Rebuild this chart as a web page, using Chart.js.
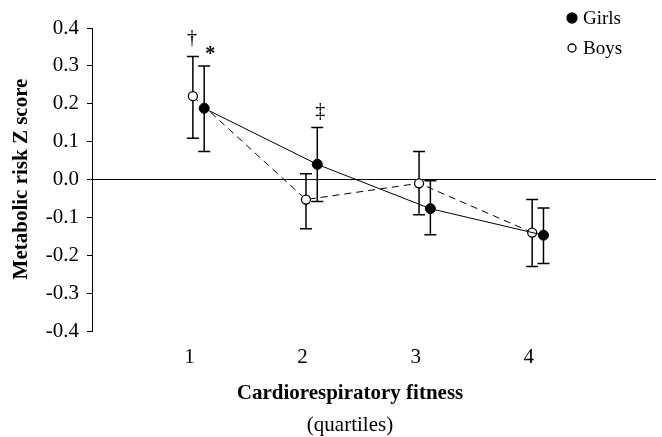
<!DOCTYPE html>
<html><head><meta charset="utf-8">
<script src="https://cdn.jsdelivr.net/npm/chart.js@4.4.0/dist/chart.umd.min.js"></script>
<style>html,body{margin:0;padding:0;background:#fff;}#wrap{width:662px;height:437px;}</style>
</head><body><div id="wrap"><canvas id="c" width="662" height="437"></canvas></div>
<script>
// ---- data ----
const quartiles = [1, 2, 3, 4];
const xTickLabels = ['1', '2', '3', '4'];
const yTicks = [-0.4, -0.3, -0.2, -0.1, 0, 0.1, 0.2, 0.3, 0.4];
const girlsMean = [0.188, 0.040, -0.077, -0.147];
const girlsLow  = [0.074, -0.058, -0.146, -0.222];
const girlsHigh = [0.300, 0.137, -0.003, -0.075];
const boysMean  = [0.220, -0.053, -0.010, -0.140];
const boysLow   = [0.109, -0.130, -0.093, -0.230];
const boysHigh  = [0.325, 0.015, 0.074, -0.053];
const markTexts = ['†', '*', '‡'];
const markSeries = ['Boys', 'Girls', 'Girls'];
const markIndex = [0, 0, 1];

// ---- style ----
const FONT = "'Liberation Serif','Times New Roman',Times,serif";
const boysOffset = 0.03, girlsOffset = 0.13;
const markStyle = [
  {dx: -1, dy: -18, bold: false},
  {dx: 6, dy: -11, bold: true},
  {dx: 3, dy: -16, bold: false}
];

const datasets = [
  {
    label: 'Girls',
    data: quartiles.map((q, i) => ({x: q + girlsOffset, y: girlsMean[i]})),
    low: girlsLow, high: girlsHigh,
    showLine: true, borderColor: '#000', borderWidth: 1,
    pointRadius: 5, pointBackgroundColor: '#000', pointBorderColor: '#000', pointBorderWidth: 1
  },
  {
    label: 'Boys',
    data: quartiles.map((q, i) => ({x: q + boysOffset, y: boysMean[i]})),
    low: boysLow, high: boysHigh,
    showLine: true, borderColor: '#000', borderWidth: 1, borderDash: [7, 5],
    pointRadius: 4.5, pointBackgroundColor: '#fff', pointBorderColor: '#000', pointBorderWidth: 1.3
  }
];

const extras = {
  id: 'extras',
  beforeDatasetsDraw(chart) {
    const {ctx, scales: {x, y}} = chart;
    ctx.save();
    ctx.strokeStyle = '#000';
    ctx.lineWidth = 1.5;
    chart.data.datasets.forEach(ds => {
      ds.data.forEach((p, i) => {
        const px = x.getPixelForValue(p.x);
        const yl = y.getPixelForValue(ds.low[i]);
        const yh = y.getPixelForValue(ds.high[i]);
        ctx.beginPath();
        ctx.moveTo(px, yl); ctx.lineTo(px, yh);
        ctx.moveTo(px - 6, yl); ctx.lineTo(px + 6, yl);
        ctx.moveTo(px - 6, yh); ctx.lineTo(px + 6, yh);
        ctx.stroke();
      });
    });
    ctx.restore();
  },
  afterDraw(chart) {
    const {ctx, scales: {x, y}} = chart;
    ctx.save();
    ctx.fillStyle = '#000';
    // significance marks
    markTexts.forEach((t, k) => {
      const ds = chart.data.datasets.find(d => d.label === markSeries[k]);
      const i = markIndex[k];
      const st = markStyle[k];
      const px = x.getPixelForValue(ds.data[i].x);
      const py = y.getPixelForValue(ds.high[i]);
      ctx.font = (st.bold ? 'bold ' : '') + '20px ' + FONT;
      ctx.textAlign = 'center';
      ctx.textBaseline = 'middle';
      ctx.fillText(t, px + st.dx, py + st.dy);
    });
    // legend
    ctx.font = '19px ' + FONT;
    ctx.textAlign = 'left';
    ctx.textBaseline = 'middle';
    chart.data.datasets.forEach((ds, k) => {
      const ly = 18 + k * 30;
      ctx.beginPath();
      ctx.arc(572, ly, k === 0 ? 5 : 4, 0, Math.PI * 2);
      ctx.fillStyle = ds.pointBackgroundColor;
      ctx.fill();
      ctx.lineWidth = 1.3;
      ctx.strokeStyle = '#000';
      ctx.stroke();
      ctx.fillStyle = '#000';
      ctx.fillText(ds.label, 583, ly + 1);
    });
    // axis titles
    ctx.font = 'bold 21px ' + FONT;
    ctx.textAlign = 'center';
    ctx.fillText('Cardiorespiratory fitness', 350, 394);
    ctx.font = '21px ' + FONT;
    ctx.fillText('(quartiles)', 350, 425);
    ctx.translate(22, 179);
    ctx.rotate(-Math.PI / 2);
    ctx.font = 'bold 21px ' + FONT;
    ctx.fillText('Metabolic risk Z score', 0, 0);
    ctx.restore();
  }
};

new Chart(document.getElementById('c'), {
  type: 'scatter',
  data: {datasets},
  options: {
    responsive: false, animation: false, devicePixelRatio: 1,
    layout: {padding: {top: 28, right: 3, left: 0, bottom: 0}},
    plugins: {legend: {display: false}, tooltip: {enabled: false}},
    scales: {
      x: {
        type: 'linear', min: 0.138, max: 5.125,
        grid: {display: false}, border: {display: false},
        afterBuildTicks: s => { s.ticks = quartiles.map(v => ({value: v})); },
        ticks: {
          callback: (v, i) => xTickLabels[i], color: '#000',
          font: {family: FONT, size: 21}, padding: 6, maxRotation: 0, autoSkip: false
        },
        afterFit: s => { s.height = 106; }
      },
      y: {
        min: -0.4, max: 0.4,
        afterBuildTicks: s => { s.ticks = yTicks.map(v => ({value: v})); },
        ticks: {
          callback: v => Number(v).toFixed(1), color: '#000',
          font: {family: FONT, size: 21}, padding: 8
        },
        grid: {
          color: c => (c.tick && Math.abs(c.tick.value) < 1e-9) ? '#000' : 'rgba(0,0,0,0)',
          tickColor: '#000', tickLength: 5, lineWidth: 1
        },
        border: {color: '#000', width: 1},
        afterFit: s => { s.width = 92; }
      }
    }
  },
  plugins: [extras]
});
</script>
</body></html>
